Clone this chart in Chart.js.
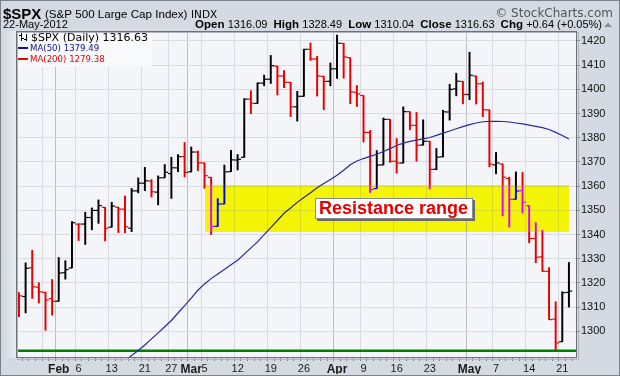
<!DOCTYPE html>
<html>
<head>
<meta charset="utf-8">
<script src="https://cdn.jsdelivr.net/npm/chart.js@4.4.0/dist/chart.umd.min.js"></script>
<style>
  body { margin: 0; background: #d3d8e1; }
  canvas { display: block; }
</style>
</head>
<body>
<canvas id="spxChart" width="620" height="376"></canvas>
<script>
// daily bars, $SPX, 24-Jan-2012 .. 22-May-2012
const dates = [
  "2012-01-24", "2012-01-25", "2012-01-26", "2012-01-27", "2012-01-30", "2012-01-31",
  "2012-02-01", "2012-02-02", "2012-02-03", "2012-02-06", "2012-02-07", "2012-02-08", "2012-02-09", "2012-02-10",
  "2012-02-13", "2012-02-14", "2012-02-15", "2012-02-16", "2012-02-17", "2012-02-21", "2012-02-22", "2012-02-23",
  "2012-02-24", "2012-02-27", "2012-02-28", "2012-02-29",
  "2012-03-01", "2012-03-02", "2012-03-05", "2012-03-06", "2012-03-07", "2012-03-08", "2012-03-09", "2012-03-12",
  "2012-03-13", "2012-03-14", "2012-03-15", "2012-03-16", "2012-03-19", "2012-03-20", "2012-03-21", "2012-03-22",
  "2012-03-23", "2012-03-26", "2012-03-27", "2012-03-28", "2012-03-29", "2012-03-30",
  "2012-04-02", "2012-04-03", "2012-04-04", "2012-04-05", "2012-04-09", "2012-04-10", "2012-04-11", "2012-04-12",
  "2012-04-13", "2012-04-16", "2012-04-17", "2012-04-18", "2012-04-19", "2012-04-20", "2012-04-23", "2012-04-24",
  "2012-04-25", "2012-04-26", "2012-04-27", "2012-04-30",
  "2012-05-01", "2012-05-02", "2012-05-03", "2012-05-04", "2012-05-07", "2012-05-08", "2012-05-09", "2012-05-10",
  "2012-05-11", "2012-05-14", "2012-05-15", "2012-05-16", "2012-05-17", "2012-05-18", "2012-05-21", "2012-05-22"
];
const opens = [
  1315.96, 1314.40, 1326.28, 1318.25, 1316.16, 1313.53,
  1312.45, 1324.24, 1326.21, 1344.32, 1344.33, 1347.04, 1349.97, 1351.21, 1343.06, 1351.30, 1350.52, 1342.61,
  1358.06, 1361.22, 1362.11, 1357.53, 1363.46, 1365.20, 1367.56, 1372.20,
  1365.90, 1374.09, 1369.59, 1363.63, 1343.39, 1352.65, 1365.97, 1370.78, 1371.92, 1395.95, 1394.17, 1402.55,
  1404.17, 1409.59, 1405.52, 1402.89, 1392.78, 1397.11, 1416.55, 1412.52, 1405.39, 1403.31,
  1408.47, 1418.98, 1413.09, 1398.79, 1397.45, 1382.18, 1358.98, 1368.77, 1387.61, 1370.27, 1369.57, 1390.78,
  1385.08, 1376.96, 1378.53, 1366.97, 1372.11, 1390.64, 1400.19, 1403.26,
  1397.86, 1405.50, 1402.32, 1391.51, 1368.79, 1369.16, 1363.20, 1354.58, 1358.11, 1351.93, 1338.36, 1330.78,
  1324.82, 1305.05, 1295.73, 1316.09
];
const highs = [
  1315.96, 1328.30, 1333.47, 1320.06, 1316.16, 1321.41,
  1330.52, 1329.19, 1345.34, 1344.36, 1349.24, 1351.00, 1354.32, 1351.21, 1353.35, 1351.30, 1355.87, 1359.02,
  1363.40, 1367.76, 1362.70, 1364.24, 1368.92, 1371.94, 1373.09, 1378.04,
  1376.17, 1374.53, 1369.59, 1363.63, 1354.85, 1368.72, 1374.76, 1373.04, 1396.13, 1399.42, 1402.63, 1405.88,
  1414.00, 1409.59, 1407.75, 1402.89, 1399.18, 1416.58, 1419.15, 1413.65, 1405.39, 1410.89,
  1422.38, 1419.00, 1413.09, 1401.60, 1397.45, 1383.01, 1374.71, 1388.13, 1387.61, 1379.66, 1392.76, 1390.78,
  1390.46, 1387.40, 1378.53, 1375.57, 1391.37, 1402.09, 1406.64, 1403.26,
  1415.32, 1405.50, 1403.07, 1391.51, 1373.91, 1369.16, 1363.73, 1365.88, 1365.66, 1351.93, 1344.94, 1341.78,
  1326.36, 1312.24, 1316.39, 1328.49
];
const lows = [
  1306.06, 1307.65, 1313.60, 1311.72, 1300.49, 1306.69,
  1312.45, 1321.57, 1326.21, 1337.52, 1335.92, 1341.95, 1344.63, 1337.35, 1343.06, 1340.83, 1340.80, 1341.22,
  1357.24, 1358.11, 1355.53, 1352.28, 1363.46, 1354.92, 1365.97, 1363.81,
  1365.90, 1366.42, 1359.13, 1340.03, 1343.39, 1352.65, 1365.97, 1366.69, 1371.92, 1389.97, 1394.17, 1401.47,
  1402.43, 1397.68, 1400.64, 1388.73, 1386.87, 1397.11, 1411.95, 1397.20, 1391.56, 1401.42,
  1404.46, 1404.62, 1394.09, 1392.92, 1378.24, 1357.38, 1358.98, 1368.77, 1369.85, 1365.38, 1369.57, 1383.29,
  1370.30, 1376.96, 1358.79, 1366.82, 1372.11, 1387.28, 1397.31, 1394.00,
  1395.73, 1393.92, 1388.71, 1367.96, 1365.12, 1347.75, 1343.13, 1354.58, 1348.89, 1336.61, 1328.41, 1324.79,
  1304.86, 1291.98, 1295.73, 1310.04
];
const closes = [
  1314.65, 1326.06, 1318.43, 1316.33, 1313.01, 1312.41,
  1324.09, 1325.54, 1344.90, 1344.33, 1347.05, 1349.96, 1351.95, 1342.64, 1351.77, 1350.50, 1343.23, 1358.04,
  1361.23, 1362.21, 1357.66, 1363.46, 1365.74, 1367.59, 1372.18, 1365.68,
  1374.09, 1369.63, 1364.33, 1343.36, 1352.63, 1365.91, 1370.87, 1371.09, 1395.95, 1394.28, 1402.60, 1404.17,
  1409.75, 1405.52, 1402.89, 1392.78, 1397.11, 1416.51, 1412.52, 1405.54, 1403.28, 1408.47,
  1419.04, 1413.38, 1398.96, 1398.08, 1382.20, 1358.59, 1368.71, 1387.57, 1370.26, 1369.57, 1390.78, 1385.14,
  1376.92, 1378.53, 1366.94, 1371.97, 1390.69, 1399.98, 1403.36, 1397.91,
  1405.82, 1402.31, 1391.57, 1369.10, 1369.58, 1363.72, 1354.58, 1357.99, 1353.39, 1338.35, 1330.66, 1324.80,
  1304.86, 1295.22, 1315.99, 1316.63
];
const prevClose = 1316.00; // close of 23-Jan, sets the colour of the first bar

// MA(50) (line starts below the axis in mid-Feb)
const ma50 = [
  null, null, null, null, null, null, null, null, null, null, null, null, null, null, null, null,
  1287.9, 1290.0, 1292.1, 1294.4, 1296.9, 1299.4, 1301.9, 1304.5, 1307.6, 1310.6,
  1313.7, 1317.0, 1319.6, 1321.8, 1323.7, 1325.6, 1327.5, 1329.4, 1331.9, 1334.5, 1337.0, 1340.0,
  1342.9, 1345.8, 1348.8, 1351.0, 1353.3, 1355.3, 1357.3, 1359.3, 1361.1, 1362.7,
  1364.5, 1366.6, 1368.8, 1370.4, 1371.4, 1372.3, 1373.2, 1374.3, 1375.5, 1376.8, 1377.8, 1378.5,
  1379.0, 1379.5, 1380.1, 1381.0, 1381.9, 1382.8, 1383.7, 1384.6,
  1385.4, 1386.1, 1386.6, 1386.8, 1386.8, 1386.7, 1386.5, 1386.1, 1385.7, 1385.2, 1384.7, 1384.2,
  1383.4, 1382.2, 1380.9, 1379.49
];
const ma200Last = 1279.38;

// axis ticks
const gridDates = [
  "2012-01-30", "2012-02-01", "2012-02-06", "2012-02-13", "2012-02-21", "2012-02-27",
  "2012-03-01", "2012-03-05", "2012-03-12", "2012-03-19", "2012-03-26",
  "2012-04-02", "2012-04-09", "2012-04-16", "2012-04-23",
  "2012-05-01", "2012-05-07", "2012-05-14", "2012-05-21"
];
const gridLabels = ["", "Feb", "6", "13", "21", "27", "Mar", "5", "12", "19", "26", "Apr", "9", "16", "23", "May", "7", "14", "21"];
const monthStarts = ["2012-02-01", "2012-03-01", "2012-04-02", "2012-05-01"];
const yTickValues = [1300, 1310, 1320, 1330, 1340, 1350, 1360, 1370, 1380, 1390, 1400, 1410, 1420];

// annotations
const supportLevel = 1292;
const bandFrom = "2012-03-05";
const bandTo = "2012-05-22";
const bandTop = 1360.5;
const bandBottom = 1341;
const noteText = "Resistance range";
const noteAt = { x: 44.7, y: 1355.3 };

const X_MIN = -0.45;
const X_MAX = 84.22;
const Y_MIN = 1289;
const Y_MAX = 1424.1;

const RED = "#e60000";
const PLOT_BG = "#f4f5f9";

const barColors = closes.map((c, i) => (c >= (i ? closes[i - 1] : prevClose) ? "#000000" : RED));

function gridColor(c) {
  if (!c || !c.tick) return "rgba(0,0,0,0)";
  const d = dates[c.tick.value];
  if (monthStarts.includes(d)) return "#b9bdc6";
  if (gridDates.includes(d)) return "#d8dbe2";
  return "rgba(0,0,0,0)";
}

function runWidths(ctx, runs) {
  return runs.reduce((w, r) => { ctx.font = r[1]; return w + ctx.measureText(r[0]).width; }, 0);
}

function drawRuns(ctx, runs, x, y) {
  runs.forEach((r) => {
    ctx.font = r[1];
    ctx.fillStyle = r[2] || "#000";
    ctx.fillText(r[0], x, y);
    x += ctx.measureText(r[0]).width;
  });
}

const overlay = {
  id: "overlay",
  beforeDraw(chart) {
    const { ctx, chartArea: a } = chart;
    ctx.save();
    ctx.fillStyle = "#d5dae2";
    ctx.fillRect(0, 0, chart.width, chart.height);
    const g = ctx.createLinearGradient(0, 0, a.left, 0);
    g.addColorStop(0, "#cfd5de");
    g.addColorStop(1, "#e8ecf1");
    ctx.fillStyle = g;
    ctx.fillRect(1, a.top, a.left - 1, a.bottom - a.top);
    ctx.fillStyle = PLOT_BG;
    ctx.fillRect(a.left, a.top, a.right - a.left, a.bottom - a.top);
    ctx.restore();
  },
  afterDatasetsDraw(chart) {
    const { ctx, chartArea: a, scales: { x, y } } = chart;
    ctx.save();

    // yellow band: blue "difference" turns the backdrop yellow, red bars magenta, black bars blue
    const bx0 = x.getPixelForValue(dates.indexOf(bandFrom));
    const bx1 = x.getPixelForValue(dates.indexOf(bandTo));
    const by0 = y.getPixelForValue(bandTop);
    const by1 = y.getPixelForValue(bandBottom);
    ctx.globalCompositeOperation = "difference";
    ctx.fillStyle = "#0000ff";
    ctx.fillRect(Math.round(bx0), Math.round(by0), Math.round(bx1 - bx0), Math.round(by1 - by0));
    ctx.globalCompositeOperation = "source-over";

    // note box
    ctx.font = "bold 18px 'Liberation Sans', Arial, sans-serif";
    const tw = ctx.measureText(noteText).width;
    const nx = Math.round(x.getPixelForValue(noteAt.x));
    const ny = Math.round(y.getPixelForValue(noteAt.y));
    const nw = Math.round(tw + 9);
    const nh = 21;
    ctx.fillStyle = "#6a6a6a";
    ctx.fillRect(nx + 2, ny + 2, nw, nh);
    ctx.fillStyle = "#ffffff";
    ctx.fillRect(nx, ny, nw, nh);
    ctx.strokeStyle = "#8a8a8a";
    ctx.lineWidth = 1;
    ctx.strokeRect(nx + 0.5, ny + 0.5, nw - 1, nh - 1);
    ctx.fillStyle = RED;
    ctx.textBaseline = "middle";
    ctx.fillText(noteText, nx + 4, ny + nh / 2 + 1);

    // legend in the top-left corner of the plot
    ctx.fillStyle = "#f8f9fb";
    ctx.fillRect(a.left + 1, a.top + 1, 135, 35);
    ctx.textBaseline = "alphabetic";
    const lx = a.left + 2;
    ctx.strokeStyle = "#000";
    ctx.lineWidth = 1;
    ctx.beginPath();
    ctx.moveTo(lx + 3.5, a.top + 2); ctx.lineTo(lx + 3.5, a.top + 10);
    ctx.moveTo(lx + 1, a.top + 4.5); ctx.lineTo(lx + 3.5, a.top + 4.5);
    ctx.moveTo(lx + 3.5, a.top + 7.5); ctx.lineTo(lx + 6, a.top + 7.5);
    ctx.moveTo(lx + 8.5, a.top + 3); ctx.lineTo(lx + 8.5, a.top + 10);
    ctx.moveTo(lx + 6, a.top + 8.5); ctx.lineTo(lx + 8.5, a.top + 8.5);
    ctx.stroke();
    ctx.font = "11px 'DejaVu Sans', sans-serif";
    ctx.fillStyle = "#000";
    ctx.fillText("$SPX (Daily) " + closes[closes.length - 1].toFixed(2), lx + 13, a.top + 10);
    ctx.font = "8.6px 'DejaVu Sans', sans-serif";
    ctx.fillStyle = "#12128a";
    ctx.fillRect(lx, a.top + 16, 10, 2);
    ctx.fillText("MA(50) " + ma50[ma50.length - 1].toFixed(2), lx + 12, a.top + 20);
    ctx.fillStyle = RED;
    ctx.fillRect(lx, a.top + 27, 10, 2);
    ctx.fillText("MA(200) " + ma200Last.toFixed(2), lx + 12, a.top + 31);
    ctx.restore();
  },
  afterDraw(chart) {
    const { ctx, chartArea: a } = chart;
    ctx.save();
    // plot frame with a soft shadow
    ctx.strokeStyle = "#b0b5bf";
    ctx.strokeRect(a.left + 1.5, a.top + 1.5, a.right - a.left, a.bottom - a.top);
    ctx.strokeStyle = "#6c7079";
    ctx.strokeRect(a.left + 0.5, a.top + 0.5, a.right - a.left - 1, a.bottom - a.top - 1);
    ctx.strokeStyle = "#7d818b";
    ctx.strokeRect(0.5, 0.5, chart.width - 1, chart.height - 1);

    // header
    const n = closes.length - 1;
    const sans = "'Liberation Sans', Arial, sans-serif";
    ctx.textBaseline = "alphabetic";
    drawRuns(ctx, [["$SPX", "bold 15px " + sans]], 3, 19);
    drawRuns(ctx, [["(S&P 500 Large Cap Index)", "11.6px " + sans]], 45, 18);
    drawRuns(ctx, [["INDX", "10.5px 'DejaVu Sans', sans-serif"]], 191, 18);
    ctx.font = "12px 'DejaVu Sans', sans-serif";
    ctx.fillStyle = "#555";
    ctx.textAlign = "right";
    ctx.fillText("\u00a9 StockCharts.com", 613, 17);
    ctx.textAlign = "left";
    drawRuns(ctx, [["22-May-2012", "11px " + sans]], 3, 28);

    const chg = closes[n] - closes[n - 1];
    const pct = (chg / closes[n - 1]) * 100;
    const b = "bold 11.5px " + sans;
    const r = "11px " + sans;
    const runs = [
      ["Open ", b], [opens[n].toFixed(2) + "  ", r],
      ["High ", b], [highs[n].toFixed(2) + "  ", r],
      ["Low ", b], [lows[n].toFixed(2) + "  ", r],
      ["Close ", b], [closes[n].toFixed(2) + "  ", r],
      ["Chg ", b], [(chg >= 0 ? "+" : "") + chg.toFixed(2) + " (" + (pct >= 0 ? "+" : "") + pct.toFixed(2) + "%)", r]
    ];
    drawRuns(ctx, runs, 602 - runWidths(ctx, runs), 28);
    ctx.fillStyle = "#8a8e96";
    ctx.beginPath();
    ctx.moveTo(604, 27); ctx.lineTo(612, 27); ctx.lineTo(608, 22.5);
    ctx.fill();
    ctx.restore();
  }
};

const xy = (values) => values.map((v, i) => ({ x: i, y: v }));

const FONT_NUM = { family: "'Liberation Sans', Arial, sans-serif", size: 11 };
const FONT_MONTH = { family: "'Liberation Sans', Arial, sans-serif", size: 12, weight: "bold" };

new Chart(document.getElementById("spxChart").getContext("2d"), {
  type: "bar",
  data: {
    datasets: [
      {
        type: "line",
        label: "MA(50)",
        data: xy(ma50),
        borderColor: "#2a2a9c",
        borderWidth: 1.2,
        pointRadius: 0,
        order: 0
      },
      {
        type: "line",
        label: "Support",
        data: [{ x: X_MIN, y: supportLevel }, { x: X_MAX, y: supportLevel }],
        borderColor: "#008000",
        borderWidth: 2.5,
        pointRadius: 0,
        order: 1
      },
      {
        type: "line",
        label: "Close",
        data: xy(closes),
        showLine: false,
        pointStyle: "dash",
        rotation: 0,
        pointRadius: 3.3,
        pointBorderWidth: 1.2,
        pointBorderColor: barColors,
        pointBackgroundColor: barColors,
        order: 2
      },
      {
        type: "line",
        label: "Open",
        data: xy(opens),
        showLine: false,
        pointStyle: "dash",
        rotation: 180,
        pointRadius: 3.3,
        pointBorderWidth: 1.2,
        pointBorderColor: barColors,
        pointBackgroundColor: barColors,
        order: 3
      },
      {
        label: "$SPX",
        data: dates.map((d, i) => ({ x: i, y: [lows[i], highs[i]] })),
        backgroundColor: barColors,
        borderWidth: 0,
        barThickness: 1.3,
        grouped: false,
        order: 4
      }
    ]
  },
  options: {
    responsive: false,
    animation: false,
    devicePixelRatio: 1,
    events: [],
    layout: { padding: { left: 16, top: 31, right: 5, bottom: 2 } },
    plugins: { legend: { display: false }, tooltip: { enabled: false } },
    scales: {
      x: {
        type: "linear",
        min: X_MIN,
        max: X_MAX,
        offset: false,
        afterBuildTicks: (axis) => { axis.ticks = dates.map((d, i) => ({ value: i })); },
        afterFit: (axis) => { axis.height = 16; },
        border: { display: false },
        grid: {
          color: gridColor,
          tickColor: "#7a7e88",
          tickLength: 3,
          lineWidth: 1
        },
        ticks: {
          autoSkip: false,
          maxRotation: 0,
          padding: 1,
          color: "#1a1a1a",
          font: (c) => (c && c.tick && monthStarts.includes(dates[c.tick.value]) ? FONT_MONTH : FONT_NUM),
          callback: (value) => {
            const k = gridDates.indexOf(dates[value]);
            return k >= 0 ? gridLabels[k] : "";
          }
        }
      },
      y: {
        position: "right",
        min: Y_MIN,
        max: Y_MAX,
        afterBuildTicks: (axis) => { axis.ticks = yTickValues.map((v) => ({ value: v })); },
        afterFit: (axis) => { axis.width = 38; },
        border: { display: false },
        grid: { color: "#d8dbe2", tickColor: "#7a7e88", tickLength: 3 },
        ticks: {
          padding: 1,
          color: "#111",
          font: { family: "'Liberation Sans', Arial, sans-serif", size: 11 },
          callback: (value) => String(value)
        }
      }
    }
  },
  plugins: [overlay]
});
</script>
</body>
</html>
